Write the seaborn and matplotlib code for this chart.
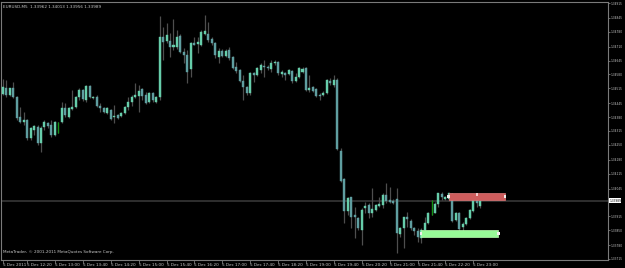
import matplotlib
matplotlib.use("Agg")
import matplotlib.pyplot as plt
from matplotlib.patches import Rectangle
from matplotlib import font_manager
import numpy as np
import pandas as pd
import seaborn as sns

# ---------------- data (EURUSD M5, 5 Dec 2011) ----------------
opens = [1.34488, 1.34515, 1.34484, 1.34515, 1.34476, 1.34382, 1.34359, 1.34367, 1.34281, 1.34320,
         1.34335, 1.34257, 1.34335, 1.34351, 1.34343, 1.34296, 1.34348, 1.34359, 1.34421, 1.34382,
         1.34417, 1.34429, 1.34473, 1.34507, 1.34460, 1.34526, 1.34468, 1.34473, 1.34432, 1.34421,
         1.34398, 1.34413, 1.34379, 1.34390, 1.34385, 1.34401, 1.34426, 1.34452, 1.34476, 1.34479,
         1.34510, 1.34484, 1.34452, 1.34494, 1.34452, 1.34474, 1.34756, 1.34738, 1.34738, 1.34710,
         1.34707, 1.34760, 1.34687, 1.34671, 1.34604, 1.34729, 1.34721, 1.34718, 1.34770, 1.34770,
         1.34748, 1.34726, 1.34663, 1.34691, 1.34668, 1.34695, 1.34660, 1.34613, 1.34601, 1.34551,
         1.34520, 1.34492, 1.34585, 1.34577, 1.34601, 1.34620, 1.34616, 1.34604, 1.34632, 1.34640,
         1.34581, 1.34588, 1.34582, 1.34598, 1.34551, 1.34570, 1.34590, 1.34609, 1.34507, 1.34520,
         1.34510, 1.34484, 1.34484, 1.34492, 1.34549, 1.34531, 1.34554, 1.34223, 1.34089, 1.33941,
         1.34004, 1.33921, 1.33906, 1.33851, 1.33953, 1.33968, 1.33932, 1.33945, 1.33963, 1.33968,
         1.34015, 1.33992, 1.33988, 1.33995, 1.33832, 1.33859, 1.33913, 1.33895, 1.33859, 1.33848,
         1.33812, 1.33851, 1.33885, 1.33959, 1.33932, 1.33973, 1.34020, 1.33995, 1.33995, 1.34020,
         1.33898, 1.33929, 1.33866, 1.33879, 1.33906, 1.33941, 1.34010, 1.33962]
highs = [1.34557, 1.34554, 1.34517, 1.34546, 1.34479, 1.34426, 1.34405, 1.34371, 1.34334, 1.34343,
         1.34343, 1.34338, 1.34367, 1.34357, 1.34367, 1.34362, 1.34359, 1.34452, 1.34445, 1.34427,
         1.34507, 1.34479, 1.34515, 1.34512, 1.34531, 1.34531, 1.34481, 1.34484, 1.34445, 1.34427,
         1.34427, 1.34418, 1.34437, 1.34395, 1.34406, 1.34432, 1.34476, 1.34484, 1.34539, 1.34531,
         1.34515, 1.34499, 1.34500, 1.34499, 1.34479, 1.34854, 1.34804, 1.34820, 1.34773, 1.34839,
         1.34788, 1.34770, 1.34703, 1.34695, 1.34734, 1.34757, 1.34757, 1.34788, 1.34859, 1.34827,
         1.34756, 1.34732, 1.34703, 1.34699, 1.34699, 1.34710, 1.34666, 1.34640, 1.34606, 1.34577,
         1.34526, 1.34591, 1.34593, 1.34615, 1.34632, 1.34648, 1.34624, 1.34648, 1.34648, 1.34645,
         1.34601, 1.34593, 1.34606, 1.34601, 1.34585, 1.34615, 1.34616, 1.34615, 1.34577, 1.34526,
         1.34517, 1.34492, 1.34502, 1.34559, 1.34562, 1.34577, 1.34563, 1.34234, 1.34095, 1.34007,
         1.34007, 1.33960, 1.33913, 1.33953, 1.33984, 1.33976, 1.34046, 1.33973, 1.34007, 1.34023,
         1.34070, 1.34054, 1.33994, 1.34046, 1.33866, 1.33913, 1.33937, 1.33901, 1.33866, 1.33859,
         1.33859, 1.33913, 1.33935, 1.33992, 1.33984, 1.34026, 1.34030, 1.34010, 1.34026, 1.34023,
         1.33935, 1.33937, 1.33890, 1.33912, 1.33949, 1.34001, 1.34015, 1.34013]
lows = [1.34484, 1.34476, 1.34479, 1.34468, 1.34367, 1.34351, 1.34343, 1.34273, 1.34273, 1.34296,
        1.34249, 1.34218, 1.34320, 1.34329, 1.34288, 1.34292, 1.34304, 1.34351, 1.34382, 1.34376,
        1.34413, 1.34423, 1.34460, 1.34456, 1.34452, 1.34470, 1.34465, 1.34426, 1.34405, 1.34399,
        1.34395, 1.34367, 1.34351, 1.34369, 1.34381, 1.34397, 1.34413, 1.34432, 1.34468, 1.34405,
        1.34460, 1.34442, 1.34448, 1.34452, 1.34448, 1.34460, 1.34648, 1.34726, 1.34663, 1.34695,
        1.34698, 1.34681, 1.34632, 1.34539, 1.34570, 1.34718, 1.34679, 1.34713, 1.34765, 1.34734,
        1.34718, 1.34656, 1.34632, 1.34662, 1.34662, 1.34648, 1.34606, 1.34585, 1.34545, 1.34460,
        1.34484, 1.34484, 1.34546, 1.34573, 1.34585, 1.34570, 1.34601, 1.34593, 1.34624, 1.34577,
        1.34570, 1.34554, 1.34577, 1.34539, 1.34546, 1.34563, 1.34585, 1.34502, 1.34499, 1.34498,
        1.34474, 1.34460, 1.34479, 1.34488, 1.34531, 1.34523, 1.34226, 1.34076, 1.33882, 1.33921,
        1.33859, 1.33812, 1.33851, 1.33781, 1.33929, 1.33906, 1.33913, 1.33940, 1.33960, 1.33953,
        1.33976, 1.33976, 1.33973, 1.33742, 1.33820, 1.33765, 1.33866, 1.33851, 1.33827, 1.33796,
        1.33789, 1.33835, 1.33879, 1.33921, 1.33929, 1.33960, 1.33992, 1.33992, 1.33988, 1.33890,
        1.33893, 1.33832, 1.33832, 1.33874, 1.33902, 1.33937, 1.33960, 1.33956]
closes = [1.34523, 1.34484, 1.34515, 1.34476, 1.34375, 1.34359, 1.34367, 1.34281, 1.34328, 1.34338,
          1.34257, 1.34328, 1.34359, 1.34338, 1.34296, 1.34359, 1.34348, 1.34421, 1.34390, 1.34421,
          1.34429, 1.34473, 1.34507, 1.34463, 1.34526, 1.34473, 1.34476, 1.34432, 1.34421, 1.34405,
          1.34421, 1.34371, 1.34385, 1.34375, 1.34401, 1.34426, 1.34452, 1.34476, 1.34484, 1.34504,
          1.34479, 1.34445, 1.34494, 1.34460, 1.34473, 1.34756, 1.34732, 1.34765, 1.34710, 1.34718,
          1.34757, 1.34687, 1.34671, 1.34593, 1.34729, 1.34720, 1.34731, 1.34780, 1.34785, 1.34742,
          1.34726, 1.34671, 1.34691, 1.34668, 1.34691, 1.34656, 1.34609, 1.34598, 1.34551, 1.34520,
          1.34492, 1.34585, 1.34577, 1.34609, 1.34624, 1.34613, 1.34609, 1.34632, 1.34640, 1.34585,
          1.34593, 1.34577, 1.34601, 1.34551, 1.34570, 1.34609, 1.34606, 1.34507, 1.34515, 1.34504,
          1.34479, 1.34479, 1.34494, 1.34554, 1.34539, 1.34554, 1.34231, 1.34082, 1.33941, 1.34000,
          1.33913, 1.33910, 1.33859, 1.33945, 1.33963, 1.33932, 1.33948, 1.33968, 1.33973, 1.34015,
          1.33988, 1.33984, 1.33979, 1.33835, 1.33859, 1.33910, 1.33901, 1.33859, 1.33848, 1.33820,
          1.33851, 1.33885, 1.33929, 1.33959, 1.33973, 1.34023, 1.34004, 1.34007, 1.34023, 1.33895,
          1.33929, 1.33854, 1.33879, 1.33906, 1.33945, 1.33995, 1.33976, 1.33989]

x_tick_bars = [0, 7, 15, 23, 31, 39, 47, 55, 63, 71, 79, 87, 95, 103, 111, 119, 127, 135]
x_tick_labels = ["5 Dec 2011", "5 Dec 12:20", "5 Dec 13:00", "5 Dec 13:40", "5 Dec 14:20",
                 "5 Dec 15:00", "5 Dec 15:40", "5 Dec 16:20", "5 Dec 17:00", "5 Dec 17:40",
                 "5 Dec 18:20", "5 Dec 19:00", "5 Dec 19:40", "5 Dec 20:20", "5 Dec 21:00",
                 "5 Dec 21:40", "5 Dec 22:20", "5 Dec 23:00"]
y_tick_values = [1.34915, 1.34845, 1.34780, 1.34710, 1.34645, 1.34580, 1.34515, 1.34445, 1.34380,
                 1.34315, 1.34250, 1.34180, 1.34115, 1.34045, 1.33915, 1.33850, 1.33780, 1.33715]
y_tick_labels = ["1.34915", "1.34845", "1.34780", "1.34710", "1.34645", "1.34580", "1.34515",
                 "1.34445", "1.34380", "1.34315", "1.34250", "1.34180", "1.34115", "1.34045",
                 "1.33915", "1.33850", "1.33780", "1.33715"]
current_price = 1.33989
title_text = "EURUSD,M5  1.33962 1.34013 1.33956 1.33989"
footer_text = "MetaTrader, \u00a9 2001-2011 MetaQuotes Software Corp."

# zones: [start bar, end bar, low price, high price]
red_zone = [127.9, 144.1, 1.33992, 1.34023]
green_zone = [120.0, 142.2, 1.33817, 1.33851]

# ---------------- styling ----------------
sns.set_theme(style="dark", rc={"axes.facecolor": "black", "figure.facecolor": "black",
                                "axes.edgecolor": "#7a7a7a", "axes.grid": False})
names = {f.name for f in font_manager.fontManager.ttflist}
if "Liberation Sans Narrow" in names:
    FONT, FS, FSY = "Liberation Sans Narrow", 3.7, 3.3
else:
    FONT, FS, FSY = "DejaVu Sans", 3.0, 2.6
plt.rcParams["font.family"] = [FONT, "DejaVu Sans"]

BULL = "#66cdaa"
BEAR = "#5f9ea0"
WICK = "#4e4e4e"
DOJI = "#129412"
TXT = "#c8c8c8"

df = pd.DataFrame({"open": opens, "high": highs, "low": lows, "close": closes})
df["bar"] = np.arange(len(df))
df["kind"] = np.where(df["close"] > df["open"], "bull",
                      np.where(df["close"] < df["open"], "bear", "doji"))

W, H = 625, 268
fig = plt.figure(figsize=(W / 100, H / 100), dpi=100)
fig.patch.set_facecolor("black")
ax = fig.add_axes([0.0015, 8 / H, 607 / W, 258 / H])
ax.set_facecolor("black")

# wicks
ax.vlines(df["bar"], df["low"], df["high"], color=WICK, lw=0.9, zorder=2)
# bodies
for kind, col in (("bull", BULL), ("bear", BEAR)):
    sub = df[df["kind"] == kind]
    bottom = np.minimum(sub["open"], sub["close"])
    height = np.abs(sub["close"] - sub["open"])
    ax.bar(sub["bar"], height, bottom=bottom, width=0.58, color=col,
           edgecolor=col, linewidth=0.3, zorder=3)
# doji candles
dj = df[df["kind"] == "doji"]
ax.vlines(dj["bar"], dj["low"], dj["high"], color=DOJI, lw=0.9, zorder=3)

# current price line
ax.axhline(current_price, color="#3c3c3c", lw=1.1, zorder=1)

# zones
for zone, fc, ec in ((red_zone, "#cd5c5c", "#de7a7a"), (green_zone, "#98fb98", "#b8ffb0")):
    ax.add_patch(Rectangle((zone[0], zone[2]), zone[1] - zone[0], zone[3] - zone[2],
                           facecolor=fc, edgecolor=ec, lw=0.5, zorder=4))
    mid = (zone[2] + zone[3]) / 2
    sns.scatterplot(x=[zone[0], zone[1]], y=[mid, mid], ax=ax, marker="s", s=3,
                    color="#f2ecec", edgecolor="none", zorder=5, legend=False)
sns.scatterplot(x=[(red_zone[0] + red_zone[1]) / 2], y=[red_zone[3] - 0.00005], ax=ax,
                marker="s", s=3, color="#f0c8c8", edgecolor="none", zorder=5, legend=False)

# limits
ax.set_xlim(-0.49, 173.6)
ax.set_ylim(1.33710, 1.34920)

# axes / ticks
for sp in ax.spines.values():
    sp.set_color("#7a7a7a")
    sp.set_linewidth(0.8)
ax.yaxis.tick_right()
ax.set_yticks(y_tick_values)
ax.set_yticklabels(y_tick_labels)
ax.set_xticks(x_tick_bars)
ax.set_xticklabels(x_tick_labels, ha="left")
ax.tick_params(axis="y", which="both", right=True, left=False, length=1.5, width=0.6,
               color="#7a7a7a", labelsize=FSY, labelcolor=TXT, pad=0.5)
ax.tick_params(axis="x", which="both", bottom=True, length=2, width=0.6,
               color="#7a7a7a", labelsize=FS, labelcolor=TXT, pad=0.4)
ax.set_xlabel("")
ax.set_ylabel("")

# texts
ax.text(0.004, 0.99, title_text, transform=ax.transAxes, ha="left", va="top",
        fontsize=FS, color=TXT)
ax.text(0.003, 0.022, footer_text, transform=ax.transAxes, ha="left", va="bottom",
        fontsize=FS, color=TXT)
price_lbl = ax.annotate(f"{current_price:.5f}", xy=(1, current_price),
                        xycoords=("axes fraction", "data"),
                        xytext=(1.0, 0), textcoords="offset points", ha="left", va="center",
                        fontsize=FSY, color="black", annotation_clip=False,
                        bbox=dict(boxstyle="square,pad=0.1", fc="white", ec="none"))

# shrink right-hand labels until they fit inside the canvas
fig.canvas.draw()
renderer = fig.canvas.get_renderer()
size = FSY
for _ in range(20):
    right = max(t.get_window_extent(renderer).x1 for t in ax.get_yticklabels() + [price_lbl])
    if right <= W - 1.5:
        break
    size *= 0.95
    for t in ax.get_yticklabels():
        t.set_fontsize(size)
    price_lbl.set_fontsize(size)
    fig.canvas.draw()

fig.savefig("out.png", dpi=100, facecolor="black")
